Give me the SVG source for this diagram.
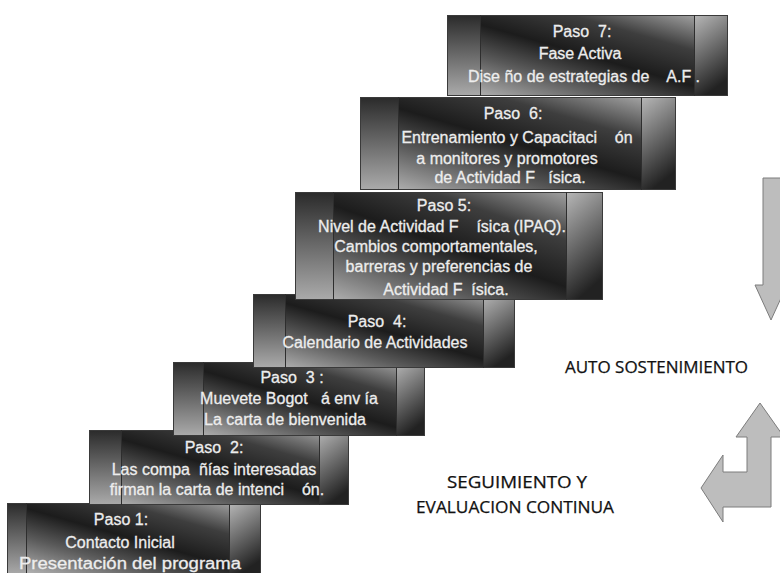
<svg xmlns="http://www.w3.org/2000/svg" width="780" height="573" viewBox="0 0 780 573">
<defs>
<linearGradient id="gMain" x1="0" y1="1" x2="1" y2="0">
<stop offset="0" stop-color="#c4c4c4"/>
<stop offset="0.3" stop-color="#5a5a5a"/>
<stop offset="0.5" stop-color="#1c1c1c"/>
<stop offset="0.72" stop-color="#3e3e3e"/>
<stop offset="1" stop-color="#bcbcbc"/>
</linearGradient>
<linearGradient id="gLeft" x1="0" y1="0" x2="0" y2="1">
<stop offset="0" stop-color="#2a2a2a"/>
<stop offset="1" stop-color="#ababab"/>
</linearGradient>
<linearGradient id="gRight" x1="0" y1="0" x2="0.3" y2="1">
<stop offset="0" stop-color="#b8b8b8"/>
<stop offset="1" stop-color="#222222"/>
</linearGradient>
<style>
.main{fill:url(#gMain)}
.lp{fill:url(#gLeft)}
.rp{fill:url(#gRight)}
.frame{fill:none;stroke:#3a3a3a;stroke-width:1}
.div{stroke:#2e2e2e;stroke-width:1}
.st{font-family:"Liberation Sans",Arial,sans-serif;font-size:16px;fill:#ededed;stroke:#ededed;stroke-width:0.3;text-anchor:middle;white-space:pre}
.lbl{font-family:"Open Sans","Liberation Sans",sans-serif;font-size:16px;fill:#111;stroke:#111;stroke-width:0.25;white-space:pre}
.arr{fill:#bdbdbd;stroke:#7c7c7c;stroke-width:1}
</style>
</defs>
<rect width="780" height="573" fill="#ffffff"/>

<g id="step1">
<rect class="main" x="7" y="503" width="254" height="72"/>
<rect class="lp" x="7" y="503" width="19" height="72"/>
<rect class="rp" x="229" y="503" width="32" height="72"/>
<rect class="frame" x="7.5" y="503.5" width="253" height="72"/>
<line class="div" x1="26.5" y1="503" x2="26.5" y2="575"/>
<line class="div" x1="229.5" y1="503" x2="229.5" y2="575"/>
<text class="st" x="121" y="525">Paso 1:</text>
<text class="st" x="120" y="548">Contacto Inicial</text>
<text class="st" x="130" y="569" textLength="222" lengthAdjust="spacingAndGlyphs">Presentación del programa</text>
</g>

<g id="step2">
<rect class="main" x="89" y="430" width="260" height="75"/>
<rect class="lp" x="89" y="430" width="32" height="75"/>
<rect class="rp" x="319" y="430" width="30" height="75"/>
<rect class="frame" x="89.5" y="430.5" width="259" height="74"/>
<line class="div" x1="121.5" y1="430" x2="121.5" y2="505"/>
<line class="div" x1="319.5" y1="430" x2="319.5" y2="505"/>
<text class="st" x="214" y="453">Paso  2:</text>
<text class="st" x="214" y="475">Las compa  ñías interesadas</text>
<text class="st" x="217" y="495">firman la carta de intenci    ón.</text>
</g>

<g id="step3">
<rect class="main" x="173" y="362" width="252" height="74"/>
<rect class="lp" x="173" y="362" width="30" height="74"/>
<rect class="rp" x="396" y="362" width="29" height="74"/>
<rect class="frame" x="173.5" y="362.5" width="251" height="73"/>
<line class="div" x1="203.5" y1="362" x2="203.5" y2="436"/>
<line class="div" x1="396.5" y1="362" x2="396.5" y2="436"/>
<text class="st" x="292" y="383">Paso  3 :</text>
<text class="st" x="289" y="404">Muevete Bogot   á env ía</text>
<text class="st" x="285" y="425">La carta de bienvenida</text>
</g>

<g id="step4">
<rect class="main" x="253" y="294" width="262" height="74"/>
<rect class="lp" x="253" y="294" width="32" height="74"/>
<rect class="rp" x="483" y="294" width="32" height="74"/>
<rect class="frame" x="253.5" y="294.5" width="261" height="73"/>
<line class="div" x1="285.5" y1="294" x2="285.5" y2="368"/>
<line class="div" x1="483.5" y1="294" x2="483.5" y2="368"/>
<text class="st" x="377" y="327">Paso  4:</text>
<text class="st" x="375" y="348">Calendario de Actividades</text>
</g>

<g id="step5">
<rect class="main" x="295" y="192" width="308" height="108"/>
<rect class="lp" x="295" y="192" width="38" height="108"/>
<rect class="rp" x="566" y="192" width="37" height="108"/>
<rect class="frame" x="295.5" y="192.5" width="307" height="107"/>
<line class="div" x1="333.5" y1="192" x2="333.5" y2="300"/>
<line class="div" x1="566.5" y1="192" x2="566.5" y2="300"/>
<text class="st" x="444" y="211">Paso 5:</text>
<text class="st" x="442" y="232">Nivel de Actividad F    ísica (IPAQ).</text>
<text class="st" x="436" y="252">Cambios comportamentales,</text>
<text class="st" x="439" y="272">barreras y preferencias de</text>
<text class="st" x="446" y="295">Actividad F  ísica.</text>
</g>

<g id="step6">
<rect class="main" x="360" y="97" width="316" height="93"/>
<rect class="lp" x="360" y="97" width="38" height="93"/>
<rect class="rp" x="641" y="97" width="35" height="93"/>
<rect class="frame" x="360.5" y="97.5" width="315" height="92"/>
<line class="div" x1="398.5" y1="97" x2="398.5" y2="190"/>
<line class="div" x1="641.5" y1="97" x2="641.5" y2="190"/>
<text class="st" x="513" y="119">Paso  6:</text>
<text class="st" x="517" y="143">Entrenamiento y Capacitaci    ón</text>
<text class="st" x="507" y="164">a monitores y promotores</text>
<text class="st" x="510" y="183">de Actividad F   ísica.</text>
</g>

<g id="step7">
<rect class="main" x="447" y="15" width="281" height="81"/>
<rect class="lp" x="447" y="15" width="33" height="81"/>
<rect class="rp" x="694" y="15" width="34" height="81"/>
<rect class="frame" x="447.5" y="15.5" width="280" height="80"/>
<line class="div" x1="480.5" y1="15" x2="480.5" y2="96"/>
<line class="div" x1="694.5" y1="15" x2="694.5" y2="96"/>
<text class="st" x="582" y="37">Paso  7:</text>
<text class="st" x="580" y="59">Fase Activa</text>
<text class="st" x="584" y="82">Dise ño de estrategias de    A.F .</text>
</g>

<g id="label-auto">
<text class="lbl" x="565" y="373" textLength="183" lengthAdjust="spacingAndGlyphs">AUTO SOSTENIMIENTO</text>
</g>
<g id="label-seguimiento">
<text class="lbl" x="447" y="488" textLength="140" lengthAdjust="spacingAndGlyphs">SEGUIMIENTO Y</text>
<text class="lbl" x="416" y="513" textLength="198" lengthAdjust="spacingAndGlyphs">EVALUACION CONTINUA</text>
</g>

<g id="connectors">
<polygon class="arr" points="763,178 781,178 781,285 787,285 771,320 755,285 763,285"/>
<polygon class="arr" points="760,403 784,437 771,437 771,507 723,507 723,522 701,488 723,455 723,472 747,472 747,437 736,437"/>
</g>
</svg>
